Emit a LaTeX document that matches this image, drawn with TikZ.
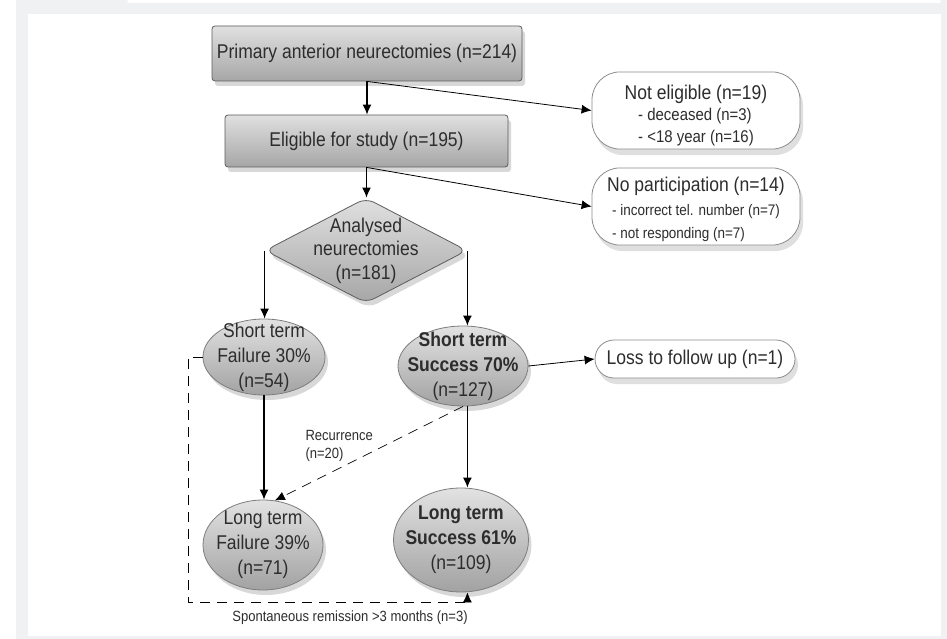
\documentclass[tikz,border=0pt]{standalone}
\usepackage{fontspec}
\setmainfont{Liberation Sans}[FakeStretch=0.88]
\usetikzlibrary{arrows.meta,calc,shapes.geometric,shadows}
\definecolor{framegray}{RGB}{240,241,243}
\definecolor{boxtop}{RGB}{224,224,224}
\definecolor{boxbot}{RGB}{166,166,166}
\definecolor{boxline}{RGB}{92,92,92}
\definecolor{ovaltop}{RGB}{226,226,226}
\definecolor{ovalbot}{RGB}{162,162,162}
\definecolor{ovalline}{RGB}{125,125,125}
\definecolor{pillline}{RGB}{140,140,140}
\definecolor{inkgray}{RGB}{45,45,45}

\begin{document}
\begin{tikzpicture}[x=1pt,y=-1pt,line join=round,
 every node/.style={text=inkgray,font=\fontsize{19.9}{25}\selectfont},
 small/.style={font=\fontsize{14.8}{18}\selectfont},
 greybox/.style={draw=boxline,line width=.8pt,rounded corners=3pt,top color=boxtop,bottom color=boxbot,
  inner sep=0pt,drop shadow={opacity=.3,shadow xshift=3pt,shadow yshift=-5pt}},
 oval/.style={ellipse,draw=ovalline,line width=.8pt,top color=ovaltop,bottom color=ovalbot,align=center,
  inner xsep=-14pt,inner ysep=-14pt,drop shadow={opacity=.3,shadow xshift=3pt,shadow yshift=-5pt}},
 pill/.style={draw=pillline,line width=.8pt,fill=white,rounded corners=28pt,align=center,inner sep=0pt,
  drop shadow={opacity=.25,shadow xshift=3pt,shadow yshift=-6pt}},
 flow/.style={-{Latex[length=10pt,width=9pt]},line width=1.3pt},
 side/.style={-{Latex[length=10pt,width=9pt]},line width=.8pt},
 back/.style={-{Latex[length=10pt,width=9pt]},dash pattern=on 10pt off 7pt,line width=.7pt}]
 \useasboundingbox (0,0) rectangle (947,639);
 \fill[framegray] (16,0) rectangle (947,639);
 \fill[white] (28,14) rectangle (941,636);
 \fill[white,rounded corners=1.5pt] (127,0) rectangle (941,3);
 \node[greybox,minimum width=310pt,minimum height=55pt] (prim) at (367,53.5) {Primary anterior neurectomies (n=214)};
 \node[greybox,minimum width=283pt,minimum height=52pt] (elig) at (366.5,141) {Eligible for study (n=195)};
 \node[diamond,draw=boxline,line width=.8pt,top color=boxtop,bottom color=boxbot,rounded corners=9pt,aspect=2,
  minimum width=202pt,minimum height=105pt,inner sep=-22pt,align=center,font=\fontsize{19.9}{23.5}\selectfont,
  drop shadow={opacity=.3,shadow xshift=3pt,shadow yshift=-5pt}] (anal) at (366,250.5) {Analysed\\neurectomies\\(n=181)};
 \node[oval,minimum width=122pt,minimum height=76pt] (stf) at (264,357) {Short term\\Failure 30\%\\(n=54)};
 \node[oval,minimum width=130pt,minimum height=80pt] (sts) at (463,366) {\textbf{Short term}\\\textbf{Success 70\%}\\(n=127)};
 \node[oval,minimum width=120pt,minimum height=90pt] (ltf) at (263,545) {Long term\\Failure 39\%\\(n=71)};
 \node[oval,minimum width=135pt,minimum height=104pt] (lts) at (461,540) {\textbf{Long term}\\\textbf{Success 61\%}\\(n=109)};
 \node[pill,minimum width=208pt,minimum height=75pt] (nelig) at (696,110.5)
  {\rule{0pt}{28pt}Not eligible (n=19)\\[0pt]{\fontsize{17}{22}\selectfont\begin{tabular}{@{}l@{}}- deceased (n=3)\\- <18 year (n=16)\end{tabular}}};
 \node[pill,minimum width=208pt,minimum height=77pt] (nopart) at (696,206.5)
  {\rule{0pt}{24pt}No participation (n=14)\\[2pt]{\fontsize{15.3}{23}\selectfont\begin{tabular}{@{}l@{}}- incorrect tel. number (n=7)\\- not responding (n=7)\end{tabular}}};
 \node[pill,minimum width=200pt,minimum height=38pt,rounded corners=19pt] (loss) at (695,359) {Loss to follow up (n=1)};
 \node[small,anchor=west,align=left] (recur) at (302,446) {Recurrence\\(n=20)};
 \node[small] (spont) at (350,618) {Spontaneous remission >3 months (n=3)};
 \coordinate (remis) at (188,602);
 \foreach \a/\b in {prim/elig,elig/anal,stf/ltf}
  {\draw[flow] (\a.south) -- (\a.south |- \b.north);}
 \foreach \a/\b in {prim/nelig,elig/nopart}
  {\draw[side] (\a.south) -- (\b.west);}
 \draw[flow] (anal.west) -- (anal.west |- stf.north);
 \draw[flow] (anal.east) -- (anal.east |- sts.north);
 \draw[flow] (anal.east |- sts.south) -- (anal.east |- lts.north);
 \draw[side] (sts.east) -- (loss.west);
 \draw[back] (sts.south) -- (ltf.75);
 \draw[back] (stf.west) -| (remis) -| (anal.east |- lts.south);
\end{tikzpicture}
\end{document}
